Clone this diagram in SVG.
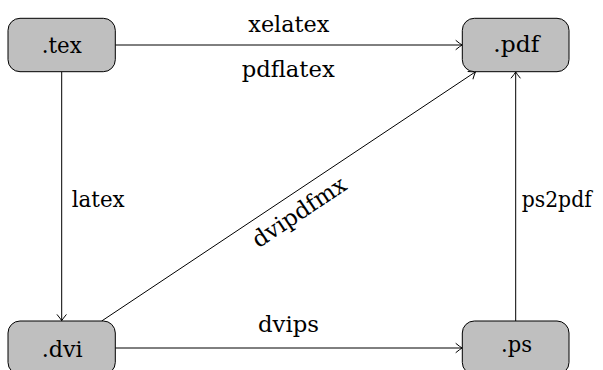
<svg xmlns="http://www.w3.org/2000/svg" width="603" height="370" viewBox="0 0 603 370">
<style>
.box{fill:#bfbfbf;stroke:#000;stroke-width:1}
.e{fill:none;stroke:#000;stroke-width:1}
</style>
<defs>
<marker id="ah" viewBox="-8 -6 10 12" refX="0" refY="0" markerWidth="10" markerHeight="12" markerUnits="userSpaceOnUse" orient="auto" overflow="visible">
<path d="M-6,-4.5 Q-2,-1.2 0,0 Q-2,1.2 -6,4.5" fill="none" stroke="#000" stroke-width="1" stroke-linecap="round"/>
</marker>
</defs>
<rect width="603" height="370" fill="#fff"/>
<g font-family="DejaVu Serif, Liberation Serif, serif" font-size="23" fill="#000">
<g id="connectors">
<line class="e" x1="115.3" y1="45" x2="462" y2="45" marker-end="url(#ah)"/>
<line class="e" x1="61.7" y1="71.7" x2="61.7" y2="320.7" marker-end="url(#ah)"/>
<line class="e" x1="115.3" y1="348" x2="462" y2="348" marker-end="url(#ah)"/>
<line class="e" x1="515.7" y1="321" x2="515.7" y2="72" marker-end="url(#ah)"/>
<line class="e" x1="101.7" y1="321" x2="475.5" y2="71.8" marker-end="url(#ah)"/>
<text x="248.3" y="31.7" textLength="81" lengthAdjust="spacingAndGlyphs">xelatex</text>
<text x="241.7" y="77" textLength="93" lengthAdjust="spacingAndGlyphs">pdflatex</text>
<text x="71.7" y="206.7" textLength="53" lengthAdjust="spacingAndGlyphs">latex</text>
<text x="521.7" y="206.7" textLength="70" lengthAdjust="spacingAndGlyphs">ps2pdf</text>
<text x="258" y="332.3" textLength="61" lengthAdjust="spacingAndGlyphs">dvips</text>
<text transform="translate(303.5,218.5) rotate(-33.7)" x="0" y="0" text-anchor="middle" textLength="108" lengthAdjust="spacingAndGlyphs">dvipdfmx</text>
</g>
<g id="tex">
<rect class="box" x="8" y="18.3" width="107.3" height="53.4" rx="12"/>
<text x="41.7" y="53.3" textLength="40" lengthAdjust="spacingAndGlyphs">.tex</text>
</g>
<g id="pdf">
<rect class="box" x="462.3" y="18.3" width="106.7" height="53.4" rx="12"/>
<text x="493.3" y="52.3" textLength="46" lengthAdjust="spacingAndGlyphs">.pdf</text>
</g>
<g id="dvi">
<rect class="box" x="8" y="321" width="107.3" height="53.4" rx="12"/>
<text x="41.7" y="356.5" textLength="41" lengthAdjust="spacingAndGlyphs">.dvi</text>
</g>
<g id="ps">
<rect class="box" x="462.3" y="321" width="106.7" height="53.4" rx="12"/>
<text x="501" y="351.7" textLength="31" lengthAdjust="spacingAndGlyphs">.ps</text>
</g>
</g>
</svg>
